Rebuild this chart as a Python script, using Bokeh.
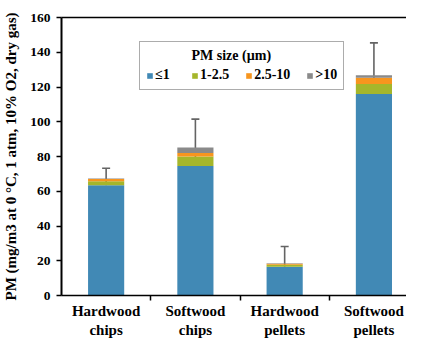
from bokeh.plotting import figure
from bokeh.models import (Range1d, FixedTicker, LinearAxis, Legend, LegendItem,
                          ColumnDataSource, Whisker, TeeHead)
from bokeh.embed import file_html
from bokeh.resources import INLINE

categories = ["Hardwood\nchips", "Softwood\nchips", "Hardwood\npellets", "Softwood\npellets"]
pm_le1 = [63.5, 74.6, 16.5, 116.0]
pm_1_2_5 = [2.2, 5.4, 1.2, 5.7]
pm_2_5_10 = [1.3, 2.0, 0.6, 3.6]
pm_gt10 = [0.3, 3.2, 0.3, 1.4]
err_upper = [73.2, 101.5, 28.2, 145.4]
series_labels = ["≤1", "1-2.5", "2.5-10", ">10"]
legend_title = "PM size (µm)"
y_ticks = [0, 20, 40, 60, 80, 100, 120, 140, 160]

colors = ["#4189b5", "#a5b62b", "#f7951e", "#8a8a8a"]
FONT = "Liberation Serif"

xs = [i + 0.5 for i in range(len(categories))]
src = ColumnDataSource(dict(x=xs, s1=pm_le1, s2=pm_1_2_5, s3=pm_2_5_10, s4=pm_gt10,
                            lo=pm_le1, up=err_upper))

p = figure(width=406, height=340, x_range=Range1d(0, 3.865), y_range=Range1d(0, 160),
           output_backend="svg", toolbar_location=None,
           min_border_left=60, min_border_right=0, min_border_top=17, min_border_bottom=40)
p.outline_line_color = None
p.xgrid.visible = False
p.ygrid.visible = False
p.background_fill_color = "white"
p.border_fill_color = "white"

rs = p.vbar_stack(["s1", "s2", "s3", "s4"], x="x", width=0.405, color=colors,
                  line_color=None, source=src)

wh = Whisker(base="x", lower="lo", upper="up", source=src, dimension="height",
             line_color="#646464", line_width=1.6,
             upper_head=TeeHead(size=8, line_color="#646464", line_width=1.6),
             lower_head=None)
p.add_layout(wh)

# y axis
ya = p.yaxis[0]
ya.ticker = FixedTicker(ticks=y_ticks)
ya.minor_tick_line_color = None
ya.major_tick_in = 0
ya.major_tick_out = 5
ya.major_tick_line_width = 1.5
ya.axis_line_width = 2
ya.axis_line_color = "black"
ya.major_tick_line_color = "black"
ya.major_label_text_font = FONT
ya.major_label_text_font_style = "bold"
ya.major_label_text_font_size = "13.5px"
ya.major_label_text_color = "black"
ya.major_label_standoff = 6
ya.axis_label = "PM (mg/m3 at 0 °C, 1 atm, 10% O2, dry gas)"
ya.axis_label_text_font = FONT
ya.axis_label_text_font_style = "bold"
ya.axis_label_text_font_size = "15px"
ya.axis_label_text_color = "black"
ya.axis_label_standoff = 8

# x axis
xa = p.xaxis[0]
xa.ticker = FixedTicker(ticks=xs, minor_ticks=[1, 2, 3])
xa.major_label_overrides = {x: c for x, c in zip(xs, categories)}
xa.major_tick_in = 0
xa.major_tick_out = 0
xa.minor_tick_in = 0
xa.minor_tick_out = 5
xa.minor_tick_line_color = "black"
xa.minor_tick_line_width = 1.5
xa.axis_line_width = 1.5
xa.axis_line_color = "black"
xa.major_label_text_font = FONT
xa.major_label_text_font_style = "bold"
xa.major_label_text_font_size = "15px"
xa.major_label_text_color = "black"
xa.major_label_standoff = 2

# top border line
top = LinearAxis(ticker=FixedTicker(ticks=[]), major_tick_out=0, major_tick_in=0,
                 minor_tick_out=0, minor_tick_in=0, axis_line_color="black",
                 axis_line_width=1.5, major_label_text_font_size="0px")
p.add_layout(top, "above")

legend = Legend(items=[LegendItem(label=lab, renderers=[r]) for lab, r in zip(series_labels, rs)],
                orientation="horizontal", location=(78, 205),
                title="\u00a0" * 13 + legend_title,
                title_text_font=FONT, title_text_font_style="bold", title_text_font_size="14px",
                title_text_color="black", title_standoff=3,
                label_text_font=FONT, label_text_font_style="bold", label_text_font_size="14px",
                label_text_color="black", label_standoff=2, label_height=14,
                glyph_width=7, glyph_height=7, spacing=16, padding=6, margin=0,
                border_line_color="#5a5a5a", border_line_width=1,
                background_fill_color="white", background_fill_alpha=1)
p.add_layout(legend)

open("out.html", "w").write(file_html(p, INLINE))
